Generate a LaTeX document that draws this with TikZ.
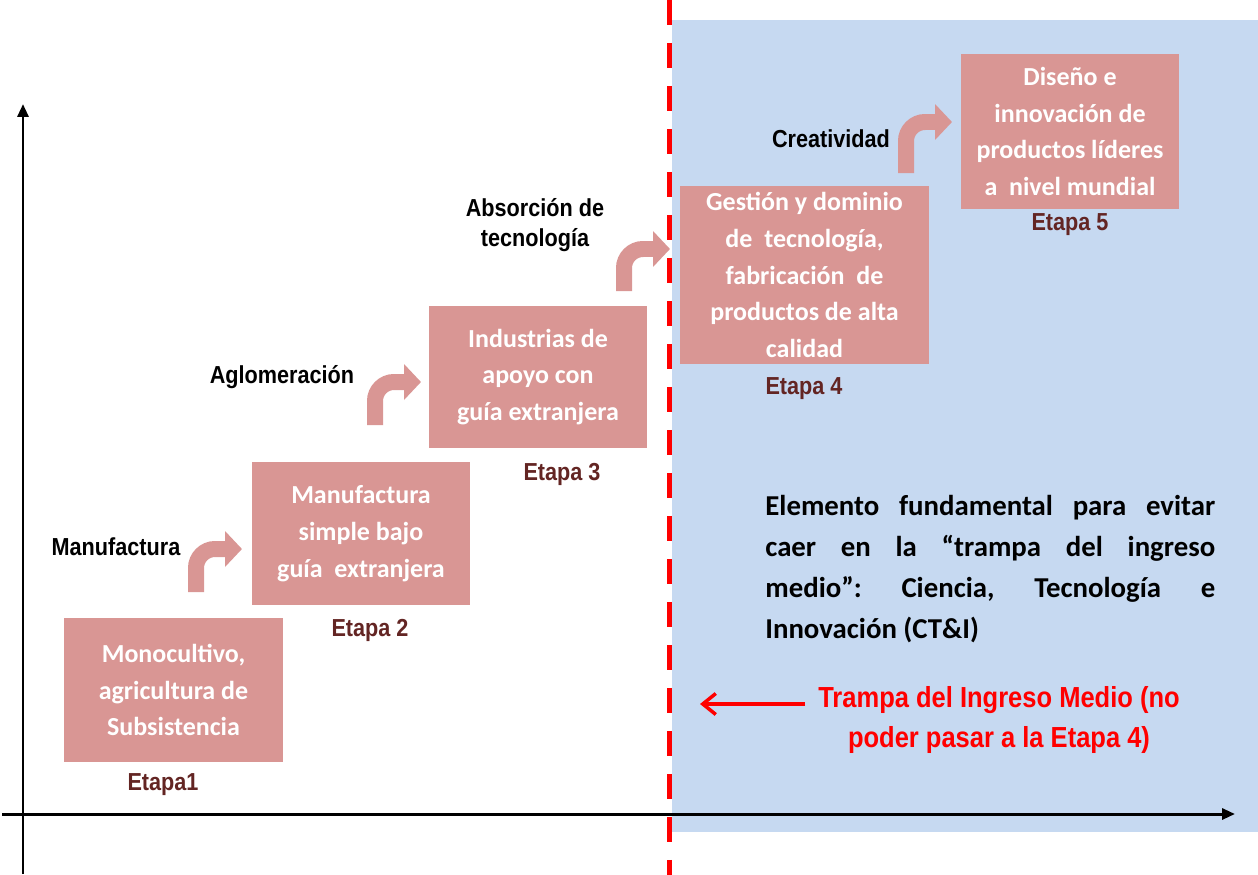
\documentclass[tikz,border=0pt]{standalone}
\usepackage{fontspec}
\setmainfont{Carlito}
\newfontfamily\arialfont[FakeStretch=0.88]{Liberation Sans}
\usetikzlibrary{arrows.meta, positioning}
\definecolor{boxpink}{HTML}{D99694}
\definecolor{trapblue}{HTML}{C6D9F1}
\definecolor{etapared}{HTML}{632523}

\begin{document}
\begin{tikzpicture}[x=0.02cm, y=-0.02cm,
    stagebox/.style={fill=boxpink, text=white, align=center, inner sep=0pt,
        font=\fontsize{14.8}{21}\selectfont\bfseries},
    etapa/.style={text=etapared, inner sep=0pt,
        font=\arialfont\fontsize{14}{17}\selectfont\bfseries},
    steplabel/.style={align=center, inner sep=0pt,
        font=\arialfont\fontsize{14}{17}\selectfont\bfseries},
    bent/.style={boxpink, line width=0.32cm, rounded corners=0.38cm,
        -{Triangle[length=0.34cm, width=0.7cm]}},
    axis/.style={line width=0.06cm, -{Triangle[length=0.26cm, width=0.22cm]}}]
    \useasboundingbox (0,0) rectangle (1258,875);
    % zona de la trampa
    \fill[trapblue] (672,20) rectangle (1258,832);
    \draw[red, line width=0.1cm, dash pattern=on 0.5cm off 0.36cm] (669.5,0) -- (669.5,875);
    % ejes
    \coordinate (ybot) at (23,874);
    \coordinate (ytop) at (23,104);
    \coordinate (xleft) at (2,814);
    \coordinate (xright) at (1235,814);
    \draw[axis] (ybot) -- (ytop);
    \draw[axis] (xleft) -- (xright);
    % etapas
    \node[stagebox, minimum width=4.38cm, minimum height=2.88cm] (box1) at (173.5,690)
        {Monocultivo,\\ agricultura de\\ Subsistencia};
    \node[stagebox, minimum width=4.36cm, minimum height=2.86cm] (box2) at (361,533.5)
        {Manufactura\\ simple bajo\\ guía\ \ extranjera};
    \node[stagebox, minimum width=4.36cm, minimum height=2.84cm] (box3) at (538,377)
        {Industrias de\\ apoyo con\\ guía extranjera};
    \node[stagebox, minimum width=4.98cm, minimum height=3.56cm] (box4) at (804.5,275)
        {Gestión y dominio\\ de\ \ tecnología,\\ fabricación\ \ de\\ productos de alta\\ calidad};
    \node[stagebox, minimum width=4.36cm, minimum height=3.1cm] (box5) at (1070,131.5)
        {Diseño e\\ innovación de\\ productos líderes\\ a\ \ nivel mundial};
    \node[etapa] (etapa1) at (163,785) {Etapa1};
    \node[etapa] (etapa2) at (370,630) {Etapa 2};
    \node[etapa] (etapa3) at (562,474) {Etapa 3};
    \node[etapa] (etapa4) at (804,389) {Etapa 4};
    \node[etapa] (etapa5) at (1070,225) {Etapa 5};
    % pasos
    \node[steplabel] (manuf) at (116,547) {Manufactura};
    \node[steplabel] (aglom) at (282,377) {Aglomeración};
    \node[steplabel] (absor) at (535,225) {Absorción de\\ tecnología};
    \node[steplabel] (creat) at (831,139) {Creatividad};
    \draw[bent] (196,592) |- (242,549);
    \draw[bent] (375,425) |- (421,382);
    \draw[bent] (624,291) |- (670,249);
    \draw[bent] (906,173) |- (952,122);
    % texto de la derecha
    \node[anchor=north west, text width=9cm, align=justify, inner sep=0pt,
        font=\fontsize{16.4}{23.3}\selectfont\bfseries] (ctei) at (765,495)
        {\frenchspacing\hyphenpenalty=10000 Elemento fundamental para evitar\linebreak caer en la “trampa del ingreso\linebreak medio”: Ciencia, Tecnología e\linebreak Innovación (CT\&I)};
    \node[align=center, text=red, inner sep=0pt,
        font=\arialfont\fontsize{16.5}{22.8}\selectfont\bfseries] (trampa) at (999,720)
        {Trampa del Ingreso Medio (no\\ poder pasar a la Etapa 4)};
    \coordinate (trapfrom) at (805,704);
    \coordinate (trapto) at (700,704);
    \draw[red, line width=0.07cm, -{Straight Barb[length=0.26cm, width=0.42cm]}] (trapfrom) -- (trapto);
\end{tikzpicture}
\end{document}
